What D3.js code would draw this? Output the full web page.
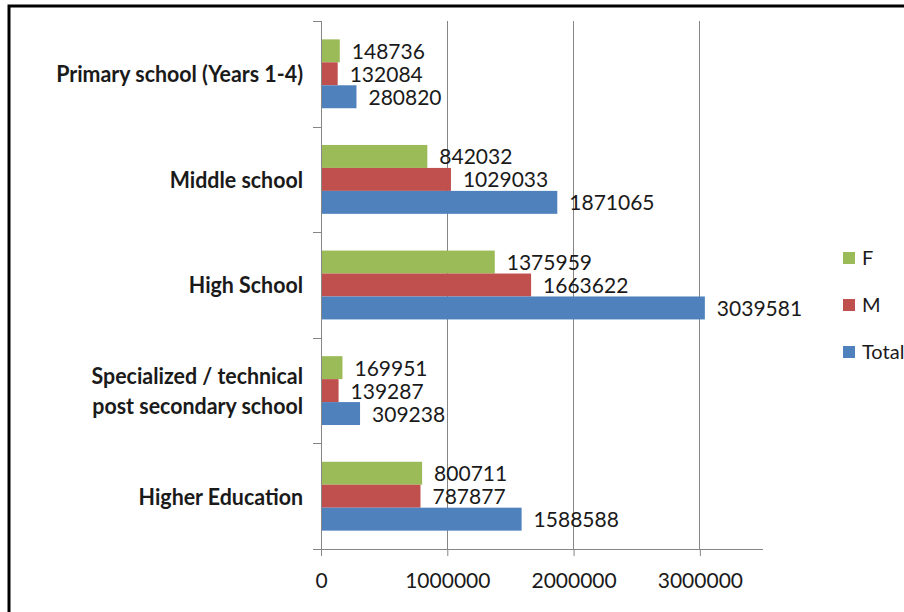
<!DOCTYPE html>
<html>
<head>
<meta charset="utf-8">
<script src="https://cdn.jsdelivr.net/npm/d3@7"></script>
<style>
  html, body { margin: 0; padding: 0; background: #fff; }
  svg { display: block; }
  text { font-family: Lato, "Open Sans", sans-serif; fill: #1a1a1a; }
</style>
</head>
<body>
<script>
// Enrolment by education level, split by sex
const categories = [
  ["Primary school (Years 1-4)"],
  ["Middle school"],
  ["High School"],
  ["Specialized / technical", "post secondary school"],
  ["Higher Education"]
];
const seriesNames = ["F", "M", "Total"];
const femaleValues = [148736, 842032, 1375959, 169951, 800711];
const maleValues = [132084, 1029033, 1663622, 139287, 787877];
const totalValues = [280820, 1871065, 3039581, 309238, 1588588];
const xTickValues = [0, 1000000, 2000000, 3000000];
const xMax = 3500000;
const seriesColors = ["#9bbb59", "#c0504d", "#4f81bd"];

const W = 904, H = 612;
const plot = { left: 321, right: 763, top: 21, bottom: 549 };
const axisColor = "#868686";

const svg = d3.select("body").append("svg")
  .attr("width", W).attr("height", H);

// chart frame (only top and left edges fall inside the view)
svg.append("rect")
  .attr("x", 9).attr("y", 6)
  .attr("width", 1000).attr("height", 800)
  .attr("fill", "none").attr("stroke", "#000").attr("stroke-width", 3);

const x = d3.scaleLinear().domain([0, xMax]).range([plot.left, plot.right]);
const y = d3.scaleBand().domain(d3.range(categories.length))
  .range([plot.top, plot.bottom]).paddingInner(0).paddingOuter(0);
const ySeries = d3.scaleBand().domain(seriesNames)
  .range([0, y.bandwidth()]).paddingInner(0).paddingOuter(0.8);

// vertical gridlines
svg.append("g").selectAll("line")
  .data(xTickValues.filter(v => v > 0))
  .join("line")
  .attr("x1", d => x(d)).attr("x2", d => x(d))
  .attr("y1", plot.top).attr("y2", plot.bottom)
  .attr("stroke", axisColor).attr("stroke-width", 1)
  .attr("shape-rendering", "crispEdges");

// bars
const rows = categories.map((c, i) => ({
  i,
  values: [femaleValues[i], maleValues[i], totalValues[i]]
}));
const groups = svg.append("g").selectAll("g")
  .data(rows).join("g")
  .attr("transform", d => `translate(0,${y(d.i)})`);

groups.selectAll("rect")
  .data(d => d.values.map((v, k) => ({ v, k })))
  .join("rect")
  .attr("x", x(0) + 1)
  .attr("y", d => ySeries(seriesNames[d.k]))
  .attr("width", d => x(d.v) - x(0) - 1)
  .attr("height", ySeries.bandwidth())
  .attr("fill", d => seriesColors[d.k]);

groups.selectAll("text.val")
  .data(d => d.values.map((v, k) => ({ v, k })))
  .join("text")
  .attr("class", "val")
  .attr("x", d => x(d.v) + 12)
  .attr("y", d => ySeries(seriesNames[d.k]) + ySeries.bandwidth() / 2)
  .attr("dy", "0.38em")
  .attr("font-size", 21)
  .text(d => d.v);

// x axis
const xAxis = d3.axisBottom(x).tickValues(xTickValues).tickSize(7).tickFormat(d3.format("d"));
const gx = svg.append("g").attr("transform", `translate(0,${plot.bottom})`).call(xAxis);
gx.select(".domain").attr("stroke", axisColor).attr("d", `M${plot.left},0.5H${plot.right}`);
gx.selectAll(".tick line").attr("stroke", axisColor);
gx.selectAll(".tick text").attr("font-size", 21).attr("font-family", "Lato, sans-serif")
  .attr("fill", "#1a1a1a").attr("y", 24).attr("dy", "0.71em");

// y axis with ticks at category boundaries
const yBounds = d3.range(categories.length + 1).map(i => plot.top + i * y.step());
const gy = svg.append("g");
gy.append("line")
  .attr("x1", plot.left + 0.5).attr("x2", plot.left + 0.5)
  .attr("y1", plot.top).attr("y2", plot.bottom + 7)
  .attr("stroke", axisColor);
gy.selectAll("line.tk").data(yBounds).join("line")
  .attr("class", "tk")
  .attr("x1", plot.left - 8).attr("x2", plot.left)
  .attr("y1", d => Math.round(d) + 0.5).attr("y2", d => Math.round(d) + 0.5)
  .attr("stroke", axisColor);

// category labels (bold, slightly condensed)
const catLabels = svg.append("g");
categories.forEach((lines, i) => {
  const cy = y(i) + y.bandwidth() / 2;
  const t = catLabels.append("text")
    .attr("text-anchor", "end")
    .attr("font-weight", "bold")
    .attr("font-size", 23.5)
    .attr("transform", `translate(303,${cy}) scale(0.91,1)`);
  lines.forEach((ln, j) => {
    t.append("tspan")
      .attr("x", 0)
      .attr("y", (j - (lines.length - 1) / 2) * 30)
      .attr("dy", "0.36em")
      .text(ln);
  });
});

// legend
const legend = svg.append("g").attr("transform", "translate(843,252)");
seriesNames.forEach((name, k) => {
  const g = legend.append("g").attr("transform", `translate(0,${k * 47})`);
  g.append("rect").attr("width", 12).attr("height", 12).attr("fill", seriesColors[k]);
  g.append("text").attr("x", 19).attr("y", 6).attr("dy", "0.36em")
    .attr("font-size", 20).text(name);
});
</script>
</body>
</html>
